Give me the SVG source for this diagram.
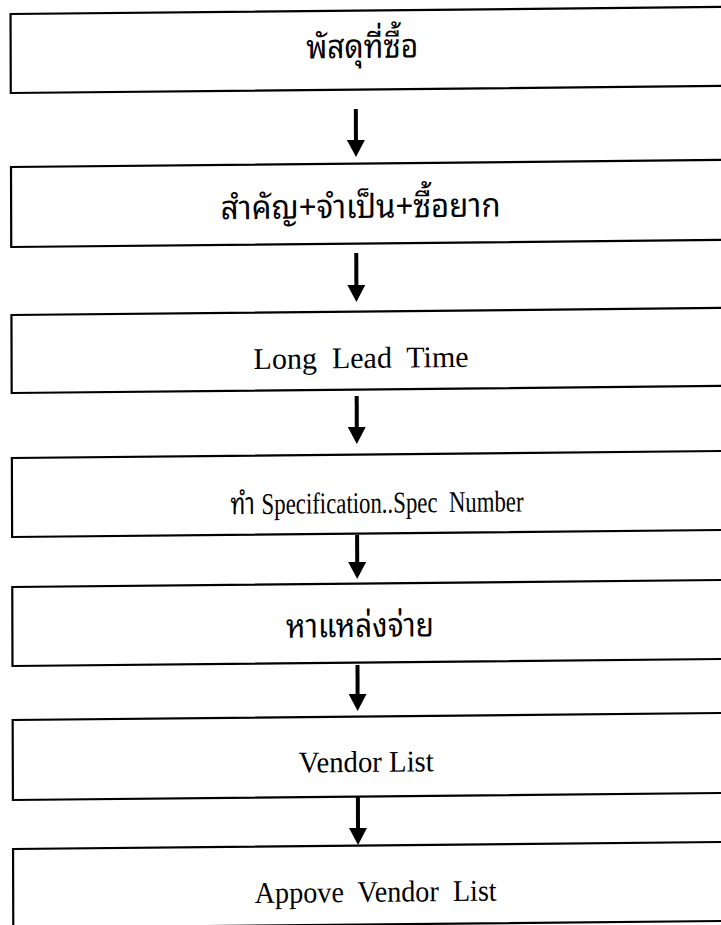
<svg xmlns="http://www.w3.org/2000/svg" width="721" height="925" viewBox="0 0 721 925">
  <style>
    .box { fill: #ffffff; stroke: #000000; stroke-width: 2.2; }
    .th { font-family: "Noto Sans Thai Looped", "Noto Serif Thai", "Norasi", "Garuda", "Loma", "Noto Sans Thai", "DejaVu Sans", sans-serif; font-size: 33px; fill: #000; text-anchor: middle; }
    .en { font-family: "Liberation Serif", "Times New Roman", serif; font-size: 30px; fill: #000; text-anchor: middle; }
    .thin { font-family: "Noto Sans Thai Looped", "Noto Serif Thai", "Norasi", "Garuda", "Loma", "Noto Sans Thai", "DejaVu Sans", sans-serif; font-size: 30px; }
    .conn line { stroke: #000000; stroke-width: 4; marker-end: url(#head); }
  </style>
  <defs>
    <marker id="head" viewBox="0 0 17 18" refX="2" refY="9" markerWidth="17" markerHeight="18" markerUnits="userSpaceOnUse" orient="auto">
      <path d="M0,0 L17,9 L0,18 Z" fill="#000"/>
    </marker>
  </defs>
  <rect x="0" y="0" width="721" height="925" fill="#ffffff"/>
  <g transform="matrix(1,-0.0099,0.003,1,0,0.1)">
    <g id="node1">
      <rect class="box" x="10.5" y="14" width="730" height="79"/>
      <text class="th" x="362" y="61.4" textLength="112" lengthAdjust="spacingAndGlyphs">พัสดุที่ซื้อ</text>
    </g>
    <g id="node2">
      <rect class="box" x="10.5" y="167" width="730" height="80"/>
      <text class="th" x="360" y="221.4" textLength="280" lengthAdjust="spacingAndGlyphs">สำคัญ+จำเป็น+ซื้อยาก</text>
    </g>
    <g id="node3">
      <rect class="box" x="10.5" y="315" width="730" height="78"/>
      <text class="en" x="360" y="371.4" xml:space="preserve">Long  Lead  Time</text>
    </g>
    <g id="node4">
      <rect class="box" x="10.5" y="458" width="730" height="79"/>
      <text class="en" x="229" y="516.4" style="text-anchor:start" textLength="293" lengthAdjust="spacingAndGlyphs" xml:space="preserve"><tspan class="thin">ทำ</tspan><tspan dx="9">Specification..Spec  Number</tspan></text>
    </g>
    <g id="node5">
      <rect class="box" x="10.5" y="587" width="730" height="79"/>
      <text class="th" x="358" y="640.4" textLength="148" lengthAdjust="spacingAndGlyphs">หาแหล่งจ่าย</text>
    </g>
    <g id="node6">
      <rect class="box" x="10.5" y="720" width="730" height="80"/>
      <text class="en" x="364" y="775.4" textLength="135" lengthAdjust="spacingAndGlyphs">Vendor List</text>
    </g>
    <g id="node7">
      <rect class="box" x="10.5" y="849" width="730" height="79"/>
      <text class="en" x="373" y="905.4" textLength="242" lengthAdjust="spacingAndGlyphs" xml:space="preserve">Appove  Vendor  List</text>
    </g>
    <g id="connectors" class="conn">
      <line x1="355.5" y1="112.4" x2="355.5" y2="145.4"/>
      <line x1="355.5" y1="256.4" x2="355.5" y2="290.4"/>
      <line x1="355.5" y1="399.4" x2="355.5" y2="432.4"/>
      <line x1="355.5" y1="538.4" x2="355.5" y2="567.4"/>
      <line x1="355.5" y1="668.4" x2="355.5" y2="699.4"/>
      <line x1="355.5" y1="800.4" x2="355.5" y2="833.4"/>
    </g>
  </g>
</svg>
